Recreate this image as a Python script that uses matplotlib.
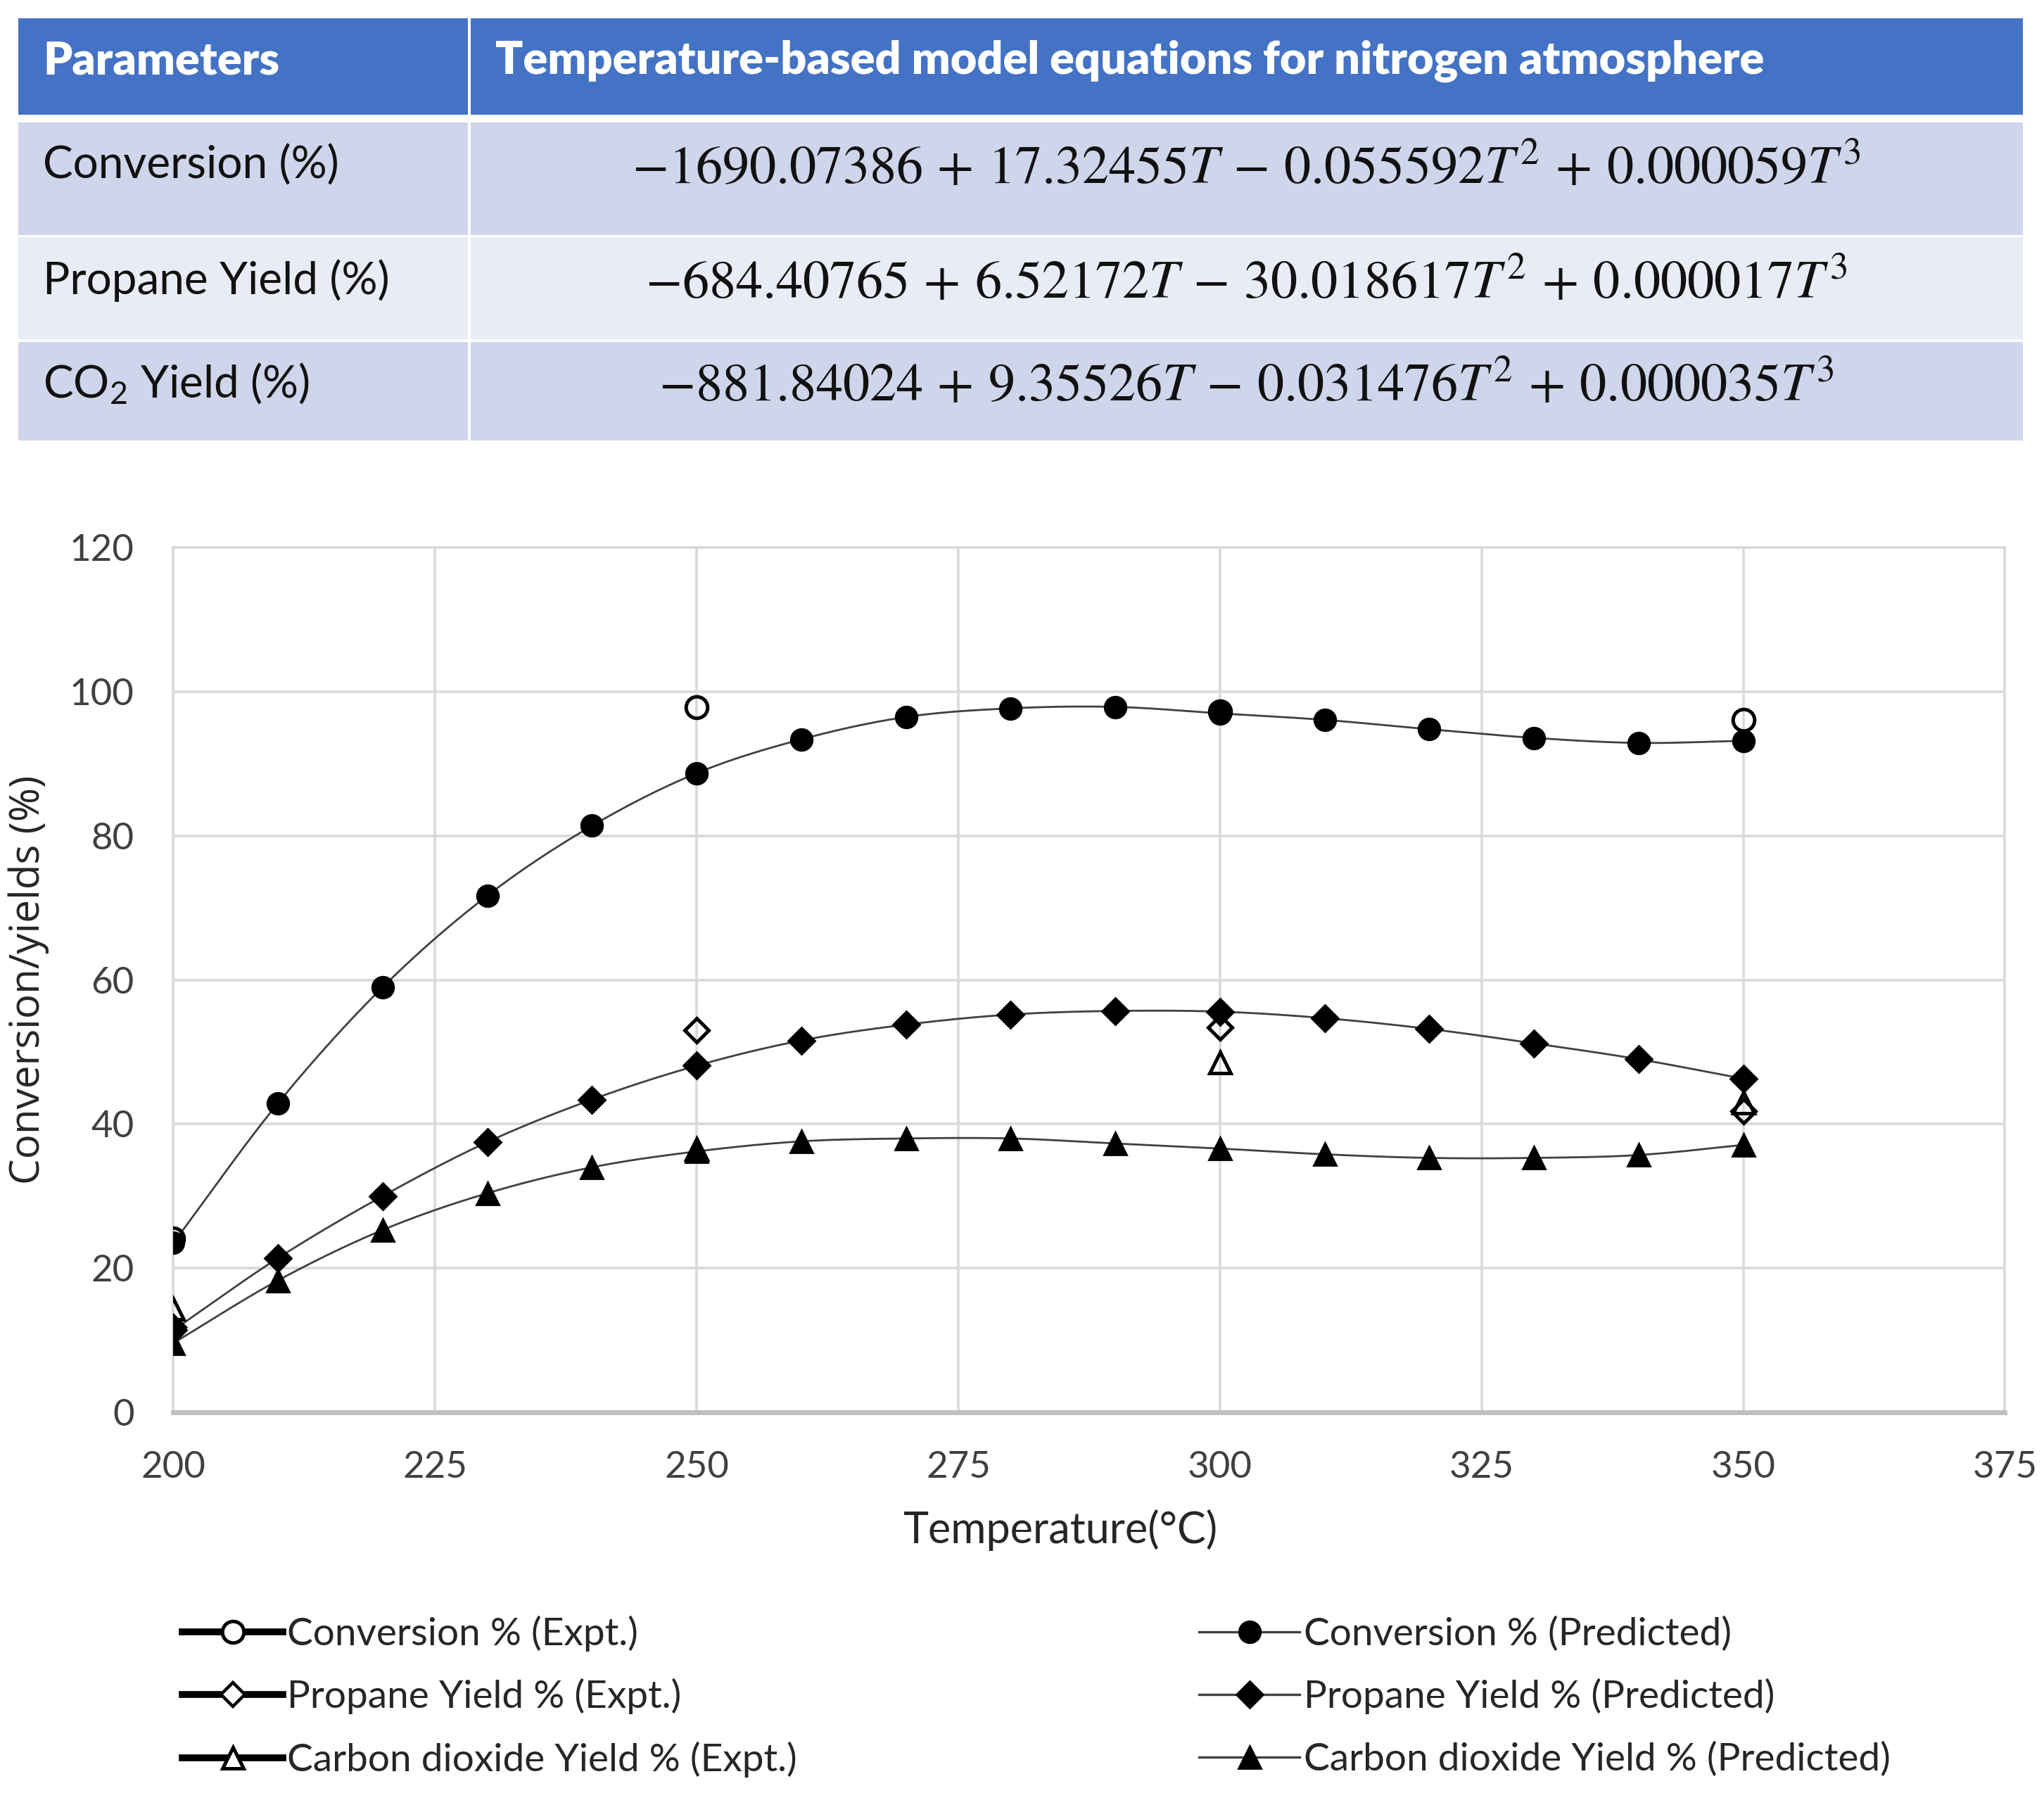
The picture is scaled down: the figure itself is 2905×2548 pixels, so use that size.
import numpy as np
import matplotlib
matplotlib.use('Agg')
import matplotlib.pyplot as plt
from matplotlib.patches import Rectangle
from matplotlib.lines import Line2D

plt.rcParams['font.family'] = ['Lato', 'DejaVu Sans']
plt.rcParams['mathtext.fontset'] = 'custom'
plt.rcParams['mathtext.rm'] = 'Lato'
plt.rcParams['mathtext.it'] = 'Lato:italic'

# ---- table data ----
table_header = ['Parameters', 'Temperature-based model equations for nitrogen atmosphere']
table_params = ['Conversion (%)', 'Propane Yield (%)', r'CO$_2$ Yield (%)']
table_eqs = [r'$-1690.07386\,+\,17.32455T\,-\,0.055592T^2\,+\,0.000059T^3$',
             r'$-684.40765\,+\,6.52172T\,-\,30.018617T^2\,+\,0.000017T^3$',
             r'$-881.84024\,+\,9.35526T\,-\,0.031476T^2\,+\,0.000035T^3$']

# ---- chart data ----
temp_pred = [200, 210, 220, 230, 240, 250, 260, 270, 280, 290, 300, 310, 320, 330, 340, 350]
conv_pred = [23.5, 42.9, 59.0, 71.7, 81.4, 88.7, 93.4, 96.5, 97.7, 97.9, 97.0, 96.1, 94.8, 93.6, 92.9, 93.2]
prop_pred = [11.4, 21.4, 30.0, 37.5, 43.4, 48.1, 51.6, 53.8, 55.2, 55.7, 55.6, 54.7, 53.2, 51.2, 49.0, 46.3]
co2_pred = [9.6, 18.3, 25.3, 30.4, 34.0, 36.2, 37.6, 38.0, 38.0, 37.3, 36.6, 35.8, 35.3, 35.3, 35.7, 37.1]

temp_expt = [200, 250, 300, 350]
conv_expt = [24.1, 97.9, 97.3, 96.1]
prop_expt = [11.8, 53.0, 53.4, 41.8]
co2_expt = [14.3, 36.5, 48.5, 43.0]


def smooth(x, y, n=24):
    # catmull-rom curve through the points, like excel's smoothed line
    pts = np.column_stack([x, y]).astype(float)
    P = np.vstack([2 * pts[0] - pts[1], pts, 2 * pts[-1] - pts[-2]])
    out = []
    t = np.linspace(0, 1, n, endpoint=False)[:, None]
    for i in range(1, len(P) - 2):
        p0, p1, p2, p3 = P[i - 1], P[i], P[i + 1], P[i + 2]
        seg = 0.5 * (2 * p1 + (-p0 + p2) * t + (2 * p0 - 5 * p1 + 4 * p2 - p3) * t ** 2
                     + (-p0 + 3 * p1 - 3 * p2 + p3) * t ** 3)
        out.append(seg)
    out.append(pts[-1:])
    s = np.vstack(out)
    return s[:, 0], s[:, 1]


W, H = 1568, 1375
fig = plt.figure(figsize=(14.525, 12.74), dpi=200)

# table drawn in a background axes using reference pixel units
tab = fig.add_axes([0, 0, 1, 1])
tab.set_xlim(0, W)
tab.set_ylim(H, 0)
tab.axis('off')

rows = [(14, 88), (94, 180), (182, 260), (262, 338)]
cols = [(14, 359), (361, 1552)]
fills = ['#4472C4', '#CFD5EA', '#E9EBF5', '#CFD5EA']
text_y = [47, 127, 215, 294]

for r, (y0, y1) in enumerate(rows):
    for (x0, x1) in cols:
        tab.add_patch(Rectangle((x0, y0), x1 - x0, y1 - y0, facecolor=fills[r], edgecolor='none'))

tab.text(33, text_y[0], table_header[0], color='white', fontsize=23.3, fontweight='heavy',
         ha='left', va='center')
tab.text(380, text_y[0], table_header[1], color='white', fontsize=23.3, fontweight='heavy',
         ha='left', va='center')
for i in range(3):
    tab.text(33, text_y[i + 1], table_params[i], color='#111111', fontsize=23,
             ha='left', va='center')
    tab.text(956, text_y[i + 1] + 1, table_eqs[i], color='#111111', fontsize=27.4,
             ha='center', va='center', math_fontfamily='stix')

# chart
ax = fig.add_axes([133 / W, 1 - 1083 / H, (1538 - 133) / W, (1083 - 420) / H])
ax.set_xlim(200, 375)
ax.set_ylim(0, 120)
ax.set_xticks(np.arange(200, 376, 25))
ax.set_yticks(np.arange(0, 121, 20))
ax.grid(True, color='#D9D9D9', linewidth=1.3)
ax.set_axisbelow(True)
for side in ['top', 'right', 'left']:
    ax.spines[side].set_color('#D9D9D9')
    ax.spines[side].set_linewidth(1.3)
ax.spines['bottom'].set_color('#BFBFBF')
ax.spines['bottom'].set_linewidth(2.5)
ax.tick_params(length=0, labelsize=19, labelcolor='#404040', pad=20)

line_kw = dict(color='#404040', linewidth=1.0, zorder=2)
pred_kw = dict(linestyle='none', color='black', zorder=3)
expt_kw = dict(linestyle='none', markerfacecolor='none', markeredgecolor='black',
               markeredgewidth=1.8, zorder=4)

for yp, m, ms in [(conv_pred, 'o', 11), (prop_pred, 'D', 9.5), (co2_pred, '^', 11.5)]:
    sx, sy = smooth(temp_pred, yp)
    ax.plot(sx, sy, **line_kw)
    ax.plot(temp_pred, yp, marker=m, markersize=ms, **pred_kw)

ax.plot(temp_expt, conv_expt, marker='o', markersize=11, **expt_kw)
ax.plot(temp_expt, prop_expt, marker='D', markersize=8.5, **expt_kw)
ax.plot(temp_expt, co2_expt, marker='^', markersize=11, **expt_kw)

ax.set_xlabel('Temperature(°C)', fontsize=22, color='#262626')
ax.xaxis.set_label_coords(0.484, -0.136)
ax.xaxis.label.set_va('center')
ax.set_ylabel('Conversion/yields (%)', fontsize=21, color='#262626', family=['Open Sans', 'DejaVu Sans'])
ax.yaxis.set_label_coords(-0.079, 0.5)
ax.yaxis.label.set_va('center')

# legend, two columns like the reference
expt_handles = [
    Line2D([], [], color='black', linewidth=3.5, marker='o', markerfacecolor='white',
           markeredgecolor='black', markeredgewidth=1.8, markersize=11),
    Line2D([], [], color='black', linewidth=3.5, marker='D', markerfacecolor='white',
           markeredgecolor='black', markeredgewidth=1.6, markersize=8.5),
    Line2D([], [], color='black', linewidth=3.5, marker='^', markerfacecolor='white',
           markeredgecolor='black', markeredgewidth=1.8, markersize=11),
]
pred_handles = [
    Line2D([], [], color='#404040', linewidth=1.2, marker='o', markerfacecolor='black',
           markeredgecolor='black', markersize=11),
    Line2D([], [], color='#404040', linewidth=1.2, marker='D', markerfacecolor='black',
           markeredgecolor='black', markersize=9.5),
    Line2D([], [], color='#404040', linewidth=1.2, marker='^', markerfacecolor='black',
           markeredgecolor='black', markersize=11.5),
]
expt_labels = ['Conversion % (Expt.)', 'Propane Yield % (Expt.)', 'Carbon dioxide Yield % (Expt.)']
pred_labels = ['Conversion % (Predicted)', 'Propane Yield % (Predicted)',
               'Carbon dioxide Yield % (Predicted)']

leg_kw = dict(loc='center left', frameon=False, fontsize=19.8, handlelength=2.6,
              handletextpad=0.1, labelspacing=0.7, borderpad=0, borderaxespad=0,
              labelcolor='#262626')
leg1 = fig.legend(expt_handles, expt_labels, bbox_to_anchor=(140 / W, 1 - 1301 / H), **leg_kw)
leg2 = fig.legend(pred_handles, pred_labels, bbox_to_anchor=(920 / W, 1 - 1301 / H), **leg_kw)

fig.savefig('out.png', dpi=200, facecolor='white')
